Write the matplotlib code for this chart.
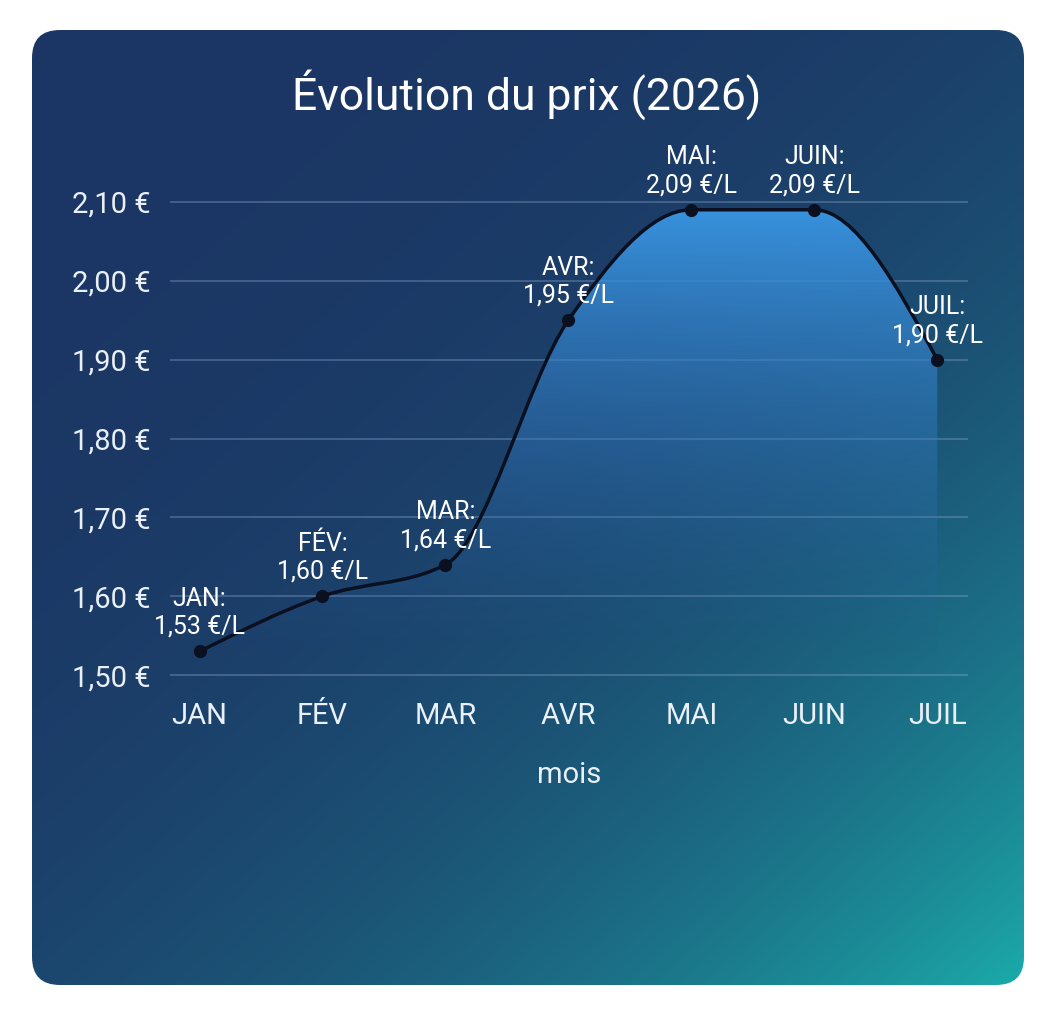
import numpy as np
import matplotlib
matplotlib.use("Agg")
import matplotlib.pyplot as plt
from matplotlib.patches import FancyBboxPatch, PathPatch
from matplotlib.path import Path
from matplotlib.colors import to_rgb

months = ["JAN", "FÉV", "MAR", "AVR", "MAI", "JUIN", "JUIL"]
prices = [1.53, 1.60, 1.64, 1.95, 2.09, 2.09, 1.90]
y_ticks = [1.50, 1.60, 1.70, 1.80, 1.90, 2.00, 2.10]

W, H = 1055, 1024
plt.rcParams["font.family"] = ["Roboto", "DejaVu Sans"]


def fmt(v):
    return f"{v:.2f}".replace(".", ",")


def monotone_path(xs, ys):
    # cubic bezier segments with monotone tangents (like d3 curveMonotoneX)
    xs = np.asarray(xs, float)
    ys = np.asarray(ys, float)
    n = len(xs)
    h = np.diff(xs)
    s = np.diff(ys) / h
    t = np.zeros(n)
    for i in range(1, n - 1):
        p = (s[i - 1] * h[i] + s[i] * h[i - 1]) / (h[i - 1] + h[i])
        t[i] = (np.sign(s[i - 1]) + np.sign(s[i])) * min(abs(s[i - 1]), abs(s[i]), 0.5 * abs(p))
    t[0] = (3 * s[0] - t[1]) / 2
    t[-1] = (3 * s[-1] - t[-2]) / 2
    verts = [(xs[0], ys[0])]
    codes = [Path.MOVETO]
    for i in range(n - 1):
        dx = h[i] / 3
        verts += [(xs[i] + dx, ys[i] + dx * t[i]),
                  (xs[i + 1] - dx, ys[i + 1] - dx * t[i + 1]),
                  (xs[i + 1], ys[i + 1])]
        codes += [Path.CURVE4] * 3
    return verts, codes


fig = plt.figure(figsize=(W / 100, H / 100), dpi=100, facecolor="white")

# background card with diagonal gradient
bg = fig.add_axes([0, 0, 1, 1])
bg.set_xlim(0, W)
bg.set_ylim(H, 0)
bg.set_axis_off()
gx, gy = np.meshgrid(np.linspace(0, 1, 300), np.linspace(0, 1, 300))
tt = np.clip((gx + 1.1 * gy) / 2.1, 0, 1) ** 3.0
navy = np.array(to_rgb("#1b3664"))
teal = np.array(to_rgb("#1caaa9"))
img = navy[None, None, :] * (1 - tt[..., None]) + teal[None, None, :] * tt[..., None]
card = FancyBboxPatch((32, 30), 992, 955, boxstyle="round,pad=0,rounding_size=28",
                      facecolor="none", edgecolor="none")
bg.add_patch(card)
im = bg.imshow(img, extent=[32, 1024, 985, 30], aspect="auto", interpolation="bilinear")
im.set_clip_path(card)

# main chart
top_px, bot_px = 194, 683
ax = fig.add_axes([170 / W, 1 - bot_px / H, (968 - 170) / W, (bot_px - top_px) / H])
ax.set_facecolor("none")
x = np.arange(len(months))
ax.set_xlim(-0.24, 6.25)
ax.set_ylim(1.49, 2.11)

verts, codes = monotone_path(x, prices)
base = 1.49
fill_path = Path(verts + [(x[-1], base), (x[0], base), (x[0], prices[0])],
                 codes + [Path.LINETO, Path.LINETO, Path.CLOSEPOLY])
fill_patch = PathPatch(fill_path, facecolor="none", edgecolor="none")
ax.add_patch(fill_patch)
yy = np.linspace(base, 2.10, 200)
k = np.clip((yy - 1.52) / (2.09 - 1.52), 0, 1)
alpha = k ** 1.1
c_top = np.array(to_rgb("#3a97e4"))
c_low = np.array(to_rgb("#2c64a8"))
cols = c_low * (1 - k[:, None]) + c_top * k[:, None]
grad = np.zeros((200, 2, 4))
grad[..., :3] = cols[:, None, :]
grad[..., 3] = alpha[:, None] * 0.95
fim = ax.imshow(grad, extent=[x[0], x[-1], base, 2.10], origin="lower",
                aspect="auto", zorder=2, interpolation="bilinear")
fim.set_clip_path(fill_patch)

line = PathPatch(Path(verts, codes), facecolor="none", edgecolor="#0b1020", lw=2.5, zorder=3)
ax.add_patch(line)
ax.plot(x, prices, "o", color="#0b1020", markersize=8.5, zorder=4)

for xi, m, p in zip(x, months, prices):
    ax.annotate(f"{m}:\n{fmt(p)} €/L", (xi, p), xytext=(0, 9), textcoords="offset points",
                ha="center", va="bottom", fontsize=18, color="white",
                linespacing=1.2, zorder=5, annotation_clip=False)

ax.set_yticks(y_ticks)
ax.set_yticklabels([f"{fmt(v)} €" for v in y_ticks])
ax.set_xticks(x)
ax.set_xticklabels(months)
ax.yaxis.grid(True, color="#8fa6c8", alpha=0.45, lw=1.1)
ax.xaxis.grid(False)
ax.set_axisbelow(True)
for sp in ax.spines.values():
    sp.set_visible(False)
ax.tick_params(axis="y", length=0, pad=14, labelsize=21, labelcolor="#eaf0f7")
ax.tick_params(axis="x", length=0, pad=14, labelsize=21, labelcolor="#eaf0f7")
ax.set_xlabel("mois", fontsize=21, color="#eaf0f7", labelpad=22)

fig.text(527 / W, 1 - 95 / H, "Évolution du prix (2026)", ha="center", va="center",
         fontsize=32, color="white")

fig.savefig("out.png", dpi=100, facecolor="white")
